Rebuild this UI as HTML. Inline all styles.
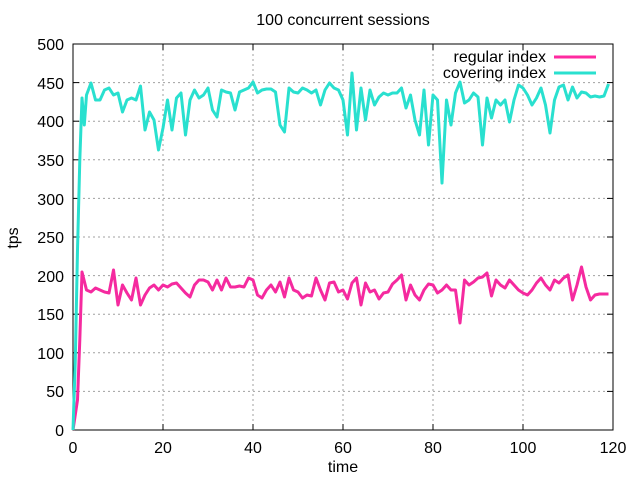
<!DOCTYPE html>
<html><head><meta charset="utf-8"><style>
html,body{margin:0;padding:0;background:#fff;width:640px;height:480px;overflow:hidden}
svg text{font-family:"Liberation Sans",sans-serif;font-size:16px;fill:#000}
</style></head><body>
<svg id="s" width="640" height="480" viewBox="0 0 640 480">
<rect x="0" y="0" width="640" height="480" fill="#fff"/>
<g stroke="#a0a0a0" stroke-width="1" stroke-dasharray="2,3">
<line x1="73" y1="391.4" x2="613" y2="391.4"/><line x1="73" y1="352.8" x2="613" y2="352.8"/>
<line x1="73" y1="314.2" x2="613" y2="314.2"/><line x1="73" y1="275.6" x2="613" y2="275.6"/>
<line x1="73" y1="237" x2="613" y2="237"/><line x1="73" y1="198.4" x2="613" y2="198.4"/>
<line x1="73" y1="159.8" x2="613" y2="159.8"/><line x1="73" y1="121.2" x2="613" y2="121.2"/>
<line x1="73" y1="82.6" x2="613" y2="82.6"/>
<line x1="163" y1="44" x2="163" y2="430"/><line x1="253" y1="44" x2="253" y2="430"/>
<line x1="343" y1="44" x2="343" y2="430"/><line x1="433" y1="44" x2="433" y2="430"/>
<line x1="523" y1="44" x2="523" y2="430"/>
</g>
<rect x="73" y="44" width="540" height="386" fill="none" stroke="#000" stroke-width="1"/>
<g id="ticks" stroke="#000" stroke-width="1"></g>
<g text-anchor="end">
<text x="64" y="436">0</text><text x="64" y="397">50</text><text x="64" y="359">100</text>
<text x="64" y="320">150</text><text x="64" y="282">200</text><text x="64" y="243">250</text>
<text x="64" y="205">300</text><text x="64" y="166">350</text><text x="64" y="127">400</text>
<text x="64" y="89">450</text><text x="64" y="50">500</text>
</g>
<g text-anchor="middle">
<text x="73" y="453">0</text><text x="163" y="453">20</text><text x="253" y="453">40</text>
<text x="343" y="453">60</text><text x="433" y="453">80</text><text x="523" y="453">100</text>
<text x="613" y="453">120</text>
<text x="343" y="472">time</text>
<text x="343" y="25">100 concurrent sessions</text>
<text x="18" y="238" transform="rotate(-90 18 238)">tps</text>
</g>
<g text-anchor="end">
<text x="546" y="62">regular index</text>
<text x="546" y="78">covering index</text>
</g>
<line x1="554" y1="57" x2="596" y2="57" stroke="#ff2aa0" stroke-width="3"/>
<line x1="554" y1="73" x2="596" y2="73" stroke="#2ae0cf" stroke-width="3"/>
<polyline id="pk" fill="none" stroke="#f52a9f" stroke-width="3" stroke-linejoin="round"/>
<polyline id="cy" fill="none" stroke="#29e0cf" stroke-width="3" stroke-linejoin="round"/>
</svg>
<script>
var c=[0,430,0.5,360,1,250,1.5,160,2,98,2.5,125,3,95,4,83,5,100,6,100,7,90,8,88,9,95,10,93,11,112,12,100,13,98,14,100,15,86,16,130,17,112,18,120,19,150,20,128,21,100,22,130,23,98,24,93,25,135,26,100,27,90,28,98,29,95,30,88,31,110,32,117,33,90,34,92,35,93,36,110,37,92,38,90,39,88,40,82,41,93,42,90,43,89,44,89,45,92,46,125,47,132,48,88,49,92,50,93,51,88,52,90,53,93,54,90,55,105,56,90,57,83,58,88,59,90,60,100,61,135,62,73,63,130,64,88,65,120,66,90,67,105,68,97,69,93,70,95,71,93,72,93,73,88,74,108,75,95,76,120,77,135,78,90,79,145,80,95,81,100,82,183,83,100,84,125,85,93,86,82,87,103,88,100,89,93,90,97,91,145,92,98,93,118,94,100,95,105,96,100,97,122,98,100,99,85,100,88,101,95,102,105,103,98,104,88,105,105,106,133,107,100,108,87,109,85,110,100,111,87,112,98,113,92,114,93,115,97,116,96,117,97,118,96,119,84];
var p=[0,430,1,400,1.5,340,2,272,3,290,4,292,5,288,6,290,7,292,8,293,9,270,10,305,11,285,12,293,13,300,14,278,15,305,16,295,17,288,18,285,19,290,20,285,21,287,22,284,23,283,24,288,25,293,26,297,27,285,28,280,29,280,30,282,31,290,32,280,33,290,34,278,35,287,36,287,37,286,38,287,39,278,40,280,41,295,42,298,43,290,44,285,45,292,46,282,47,297,48,278,49,290,50,292,51,298,52,295,53,296,54,278,55,290,56,300,57,283,58,282,59,292,60,290,61,299,62,283,63,278,64,305,65,283,66,292,67,290,68,299,69,293,70,292,71,284,72,280,73,275,74,300,75,285,76,295,77,300,78,290,79,284,80,285,81,293,82,290,83,285,84,290,85,290,86,323,87,280,88,285,89,282,90,278,91,277,92,273,93,296,94,280,95,285,96,288,97,280,98,285,99,290,100,293,101,295,102,290,103,283,104,278,105,285,106,290,107,280,108,283,109,278,110,275,111,300,112,285,113,267,114,287,115,300,116,295,117,294,118,294,119,294];
function pts(a){var s=[];for(var i=0;i<a.length;i+=2)s.push((73+4.5*a[i]).toFixed(1)+","+a[i+1]);return s.join(" ");}
document.getElementById("pk").setAttribute("points",pts(p));
document.getElementById("cy").setAttribute("points",pts(c));
var g=document.getElementById("ticks"),h="";
for(var i=0;i<=10;i++){var y=430-38.6*i;h+='<line x1="73" y1="'+y+'" x2="79" y2="'+y+'"/><line x1="607" y1="'+y+'" x2="613" y2="'+y+'"/>';}
for(var j=0;j<=6;j++){var x=73+90*j;h+='<line x1="'+x+'" y1="430" x2="'+x+'" y2="424"/><line x1="'+x+'" y1="44" x2="'+x+'" y2="50"/>';}
g.innerHTML=h;
</script>
</body></html>
